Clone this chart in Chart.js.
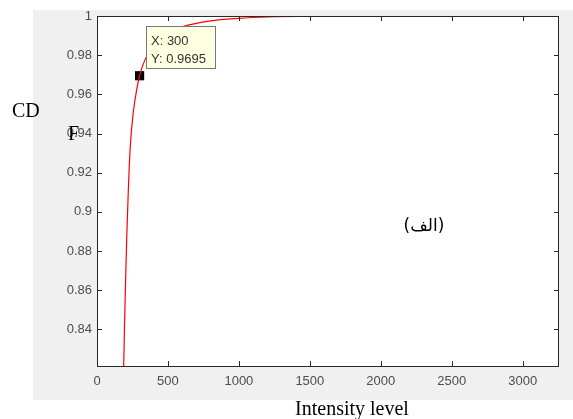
<!DOCTYPE html>
<html>
<head>
<meta charset="utf-8">
<script src="https://cdn.jsdelivr.net/npm/chart.js@4.4.0/dist/chart.umd.min.js"></script>
<style>
  body { margin: 0; background: #fff; }
  #wrap { width: 573px; height: 419px; }
</style>
</head>
<body>
<div id="wrap"><canvas id="cdf" width="573" height="419"></canvas></div>
<script>
// intensity levels and cdf
const intensity = [170, 188, 195, 200, 210, 221, 235, 256, 279, 300, 338, 400, 500, 607, 800, 1000, 1200, 1500, 2000, 3256];
const cdf = [0.77, 0.8213, 0.845, 0.8606, 0.888, 0.9115, 0.934, 0.951, 0.962, 0.9695, 0.9776, 0.985, 0.991, 0.9946, 0.9975, 0.9988, 0.9995, 0.9999, 1, 1];

const markerX = [300];
const markerY = [0.9695];

const xTicks = [0, 500, 1000, 1500, 2000, 2500, 3000];
const xTickLabels = ['0', '500', '1000', '1500', '2000', '2500', '3000'];
const yTicks = [0.84, 0.86, 0.88, 0.9, 0.92, 0.94, 0.96, 0.98, 1];
const yTickLabels = ['0.84', '0.86', '0.88', '0.9', '0.92', '0.94', '0.96', '0.98', '1'];

const tickFont = { family: 'Liberation Sans', size: 13 };

// matlab-ish figure: grey panel, boxed axes, inward ticks, datatip
const figPlugin = {
  id: 'figPlugin',
  beforeDraw(chart) {
    const ctx = chart.ctx;
    const a = chart.chartArea;
    ctx.save();
    ctx.fillStyle = '#fff';
    ctx.fillRect(0, 0, chart.width, chart.height);
    ctx.fillStyle = '#f0f0f0';
    ctx.fillRect(33, 10, chart.width - 33, 390);
    ctx.fillStyle = '#fff';
    ctx.fillRect(a.left, a.top, a.right - a.left, a.bottom - a.top);
    ctx.restore();
  },
  afterDraw(chart) {
    const ctx = chart.ctx;
    const a = chart.chartArea;
    const xs = chart.scales.x, ys = chart.scales.y;
    ctx.save();
    ctx.strokeStyle = '#262626';
    ctx.lineWidth = 1;
    ctx.strokeRect(a.left + 0.5, a.top + 0.5, a.right - a.left - 1, a.bottom - a.top);
    ctx.beginPath();
    xTicks.forEach(v => {
      const px = Math.round(xs.getPixelForValue(v)) + 0.5;
      ctx.moveTo(px, a.bottom); ctx.lineTo(px, a.bottom - 5);
      ctx.moveTo(px, a.top); ctx.lineTo(px, a.top + 5);
    });
    yTicks.forEach(v => {
      const py = Math.round(ys.getPixelForValue(v)) + 0.5;
      ctx.moveTo(a.left, py); ctx.lineTo(a.left + 5, py);
      ctx.moveTo(a.right, py); ctx.lineTo(a.right - 5, py);
    });
    ctx.stroke();

    // datatip box
    ctx.fillStyle = '#ffffe1';
    ctx.fillRect(146, 26, 70, 43);
    ctx.strokeStyle = '#777';
    ctx.strokeRect(146.5, 26.5, 69, 42);
    ctx.fillStyle = '#333';
    ctx.font = '13px "Liberation Sans"';
    ctx.textAlign = 'left';
    ctx.fillText('X: ' + markerX[0], 151, 45);
    ctx.fillText('Y: ' + markerY[0], 151, 63);

    // axis labels
    ctx.fillStyle = '#000';
    ctx.font = '20px "Liberation Serif"';
    ctx.fillText('CD', 12, 117);
    ctx.fillText('F', 68, 140);
    ctx.textAlign = 'center';
    ctx.fillText('Intensity level', 352, 415);

    ctx.font = '17px "DejaVu Sans"';
    ctx.fillText('(الف)', 424, 231);
    ctx.restore();
  }
};

new Chart(document.getElementById('cdf'), {
  type: 'scatter',
  data: {
    datasets: [
      {
        label: 'CDF',
        data: intensity.map((x, i) => ({ x: x, y: cdf[i] })),
        showLine: true,
        borderColor: '#ff0000',
        borderWidth: 1.2,
        pointRadius: 0,
        cubicInterpolationMode: 'monotone'
      },
      {
        label: 'tip',
        data: markerX.map((x, i) => ({ x: x, y: markerY[i] })),
        pointStyle: 'rect',
        pointRadius: 6.5,
        backgroundColor: '#000',
        borderColor: '#000',
        borderWidth: 0
      }
    ]
  },
  options: {
    responsive: false,
    animation: false,
    layout: { padding: { left: 0, top: 16, right: 14, bottom: 0 } },
    plugins: {
      legend: { display: false },
      tooltip: { enabled: false }
    },
    scales: {
      x: {
        type: 'linear',
        min: 0,
        max: 3256,
        afterBuildTicks: s => { s.ticks = xTicks.map(v => ({ value: v })); },
        afterFit: s => { s.height = 53; },
        grid: { display: false, drawTicks: false },
        border: { display: false },
        ticks: {
          autoSkip: false,
          maxRotation: 0,
          padding: 8,
          color: '#4d4d4d',
          font: tickFont,
          callback: (v, i) => xTickLabels[i]
        }
      },
      y: {
        min: 0.8213,
        max: 1,
        afterBuildTicks: s => { s.ticks = yTicks.map(v => ({ value: v })); },
        afterFit: s => { s.width = 97; },
        grid: { display: false, drawTicks: false },
        border: { display: false },
        ticks: {
          autoSkip: false,
          padding: 5,
          color: '#4d4d4d',
          font: tickFont,
          callback: (v, i) => yTickLabels[i]
        }
      }
    }
  },
  plugins: [figPlugin]
});
</script>
</body>
</html>
